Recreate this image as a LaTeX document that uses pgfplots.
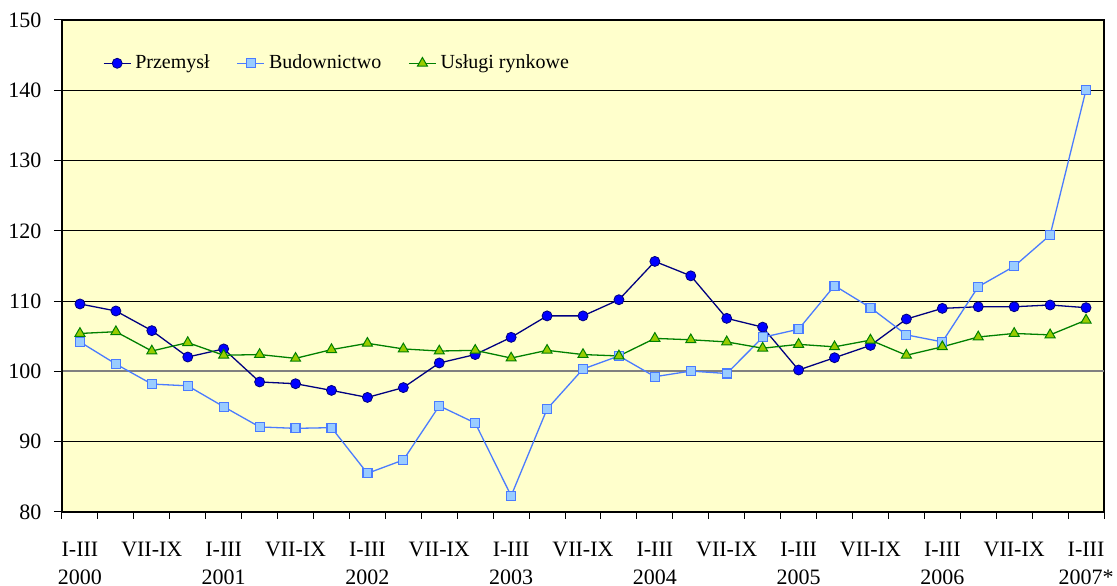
\documentclass[border=0pt]{standalone}
\usepackage{pgfplots}
\pgfplotsset{compat=1.18}
\usepackage{fontspec}
\setmainfont{Liberation Serif}
\definecolor{bgyellow}{HTML}{FFFFCC}
\definecolor{navyline}{HTML}{000080}
\definecolor{bluefill}{HTML}{0000FF}
\definecolor{budline}{HTML}{4A7BFF}
\definecolor{budfill}{HTML}{99CCFF}
\definecolor{greenline}{HTML}{008000}
\definecolor{greenfill}{HTML}{99CC00}
\begin{document}
\fontsize{11pt}{14pt}\selectfont
\begin{tikzpicture}
\begin{axis}[name=ax, scale only axis, width=521pt, height=246pt,
  xmin=-0.5, xmax=28.5, ymin=80, ymax=150,
  axis background/.style={fill=bgyellow},
  axis line style={black, line width=0.6pt},
  ytick={80,90,...,150}, ymajorgrids, grid style={black, line width=0.5pt},
  ytick pos=left, xtick pos=bottom,
  tick align=outside, major tick length=4pt, minor tick length=3.5pt,
  tick style={black, line width=0.5pt},
  major x tick style={draw=none},
  xtick={0,2,...,28},
  minor xtick={-0.5,0.5,...,28.5},
  xticklabels={{I-III\\2000},{VII-IX},{I-III\\2001},{VII-IX},{I-III\\2002},{VII-IX},{I-III\\2003},{VII-IX},{I-III\\2004},{VII-IX},{I-III\\2005},{VII-IX},{I-III\\2006},{VII-IX},{I-III\\2007*}},
  xticklabel style={align=center, anchor=north, yshift=-7pt, font=\fontsize{11pt}{14pt}\selectfont},
  yticklabel style={xshift=-2.5pt, font=\fontsize{11pt}{14pt}\selectfont},
  /pgf/number format/assume math mode=true,
  legend columns=3,
  legend style={draw=none, fill=none, at={(0.039,0.912)}, anchor=west, inner sep=0pt,
    font=\fontsize{10pt}{12pt}\selectfont,
    /tikz/every even column/.append style={column sep=11.5pt},
    /tikz/every odd column/.append style={column sep=0pt}},
  legend cell align=left,
  legend image code/.code={\draw[mark repeat=2,mark phase=2,#1] plot coordinates {(0pt,0pt) (6.75pt,0pt) (13.5pt,0pt)};},
]
\draw[gray, line width=1pt] (axis cs:-0.5,100) -- (axis cs:28.5,100);
\draw[gray, line width=1pt] (axis cs:-0.5,100) -- ([xshift=-4pt]axis cs:-0.5,100);
\addplot[navyline, line width=0.65pt, mark=*, mark size=2.5pt, mark options={fill=bluefill, draw=navyline, line width=0.4pt}] coordinates {
(0,109.6) (1,108.6) (2,105.8) (3,102.05) (4,103.2) (5,98.5) (6,98.25) (7,97.3) (8,96.3) (9,97.7)
(10,101.2) (11,102.4) (12,104.85) (13,107.9) (14,107.9) (15,110.2) (16,115.65) (17,113.6) (18,107.55) (19,106.3)
(20,100.2) (21,101.95) (22,103.7) (23,107.45) (24,108.97) (25,109.2) (26,109.2) (27,109.45) (28,109.07)};
\addlegendentry{Przemysł}
\addplot[budline, line width=0.65pt, mark=square*, mark size=2.25pt, mark options={fill=budfill, draw=budline, line width=0.6pt}] coordinates {
(0,104.2) (1,101.05) (2,98.2) (3,97.95) (4,94.98) (5,92.1) (6,91.9) (7,92.0) (8,85.5) (9,87.4)
(10,95.1) (11,92.66) (12,82.3) (13,94.65) (14,100.34) (15,102.2) (16,99.25) (17,100.05) (18,99.7) (19,104.85)
(20,106.0) (21,112.2) (22,109.07) (23,105.2) (24,104.2) (25,112.05) (26,114.95) (27,119.4) (28,140.07)};
\addlegendentry{Budownictwo}
\addplot[greenline, line width=0.65pt, mark=triangle*, mark size=2.9pt, mark options={fill=greenfill, draw=greenline, line width=0.5pt}] coordinates {
(0,105.4) (1,105.65) (2,102.9) (3,104.1) (4,102.3) (5,102.4) (6,101.86) (7,103.1) (8,104.0) (9,103.2)
(10,102.9) (11,103.0) (12,101.9) (13,103.0) (14,102.4) (15,102.2) (16,104.7) (17,104.5) (18,104.2) (19,103.3)
(20,103.85) (21,103.5) (22,104.45) (23,102.3) (24,103.5) (25,104.9) (26,105.4) (27,105.2) (28,107.3)};
\addlegendentry{Usługi rynkowe}
\draw[black, line width=1pt] (rel axis cs:0,0) -- (rel axis cs:0,1);
\draw[black, line width=1pt] (rel axis cs:0,0) -- (rel axis cs:1,0);
\end{axis}
\pgfresetboundingbox
\path ([xshift=-31pt,yshift=-37pt]ax.south west) rectangle ([xshift=6.5pt,yshift=10pt]ax.north east);
\end{tikzpicture}
\end{document}
